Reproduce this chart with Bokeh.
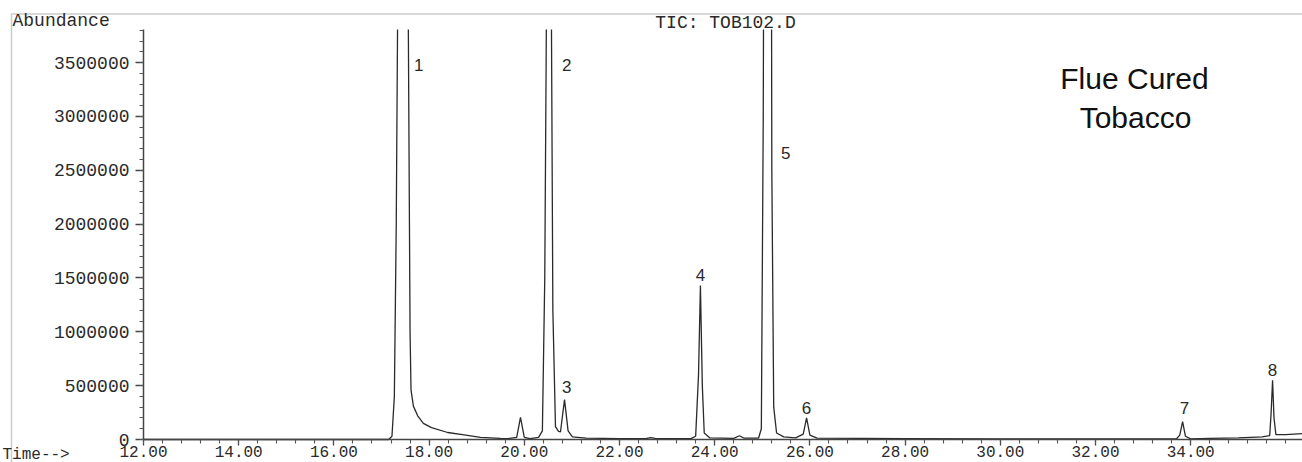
from bokeh.plotting import figure
from bokeh.models import (Range1d, FixedTicker, PrintfTickFormatter, BasicTickFormatter,
                          Label, BoxAnnotation, ColumnDataSource)
from bokeh.embed import file_html
from bokeh.resources import INLINE

NAN = float("nan")   # trace is off scale (above the top of the abundance axis)

# ---- chromatogram trace (retention time in min, abundance) ----
time_min = [12.00, 17.15, 17.22, 17.27, 17.31, 17.337, 17.45, 17.564, 17.60, 17.62,
            17.67, 17.76, 17.88, 18.05, 18.39, 18.70, 19.08, 19.50, 19.65, 19.84,
            19.92, 20.00, 20.12, 20.30, 20.38, 20.43, 20.463, 20.52, 20.571, 20.60,
            20.655, 20.72, 20.76, 20.845, 20.92, 21.01, 21.30, 22.00, 22.55, 22.65,
            22.75, 23.50, 23.60, 23.66, 23.70, 23.74, 23.78, 23.90, 24.40, 24.52,
            24.62, 24.92, 24.98, 25.02, 25.025, 25.11, 25.195, 25.20, 25.24, 25.30,
            25.45, 25.70, 25.86, 25.93, 26.00, 26.15, 28.00, 30.00, 33.70, 33.77,
            33.83, 33.89, 34.00, 34.40, 35.00, 35.50, 35.66, 35.69, 35.72, 35.75,
            35.79, 36.00, 36.35]
abundance = [0, 0, 30000, 400000, 2000000, 3807000, NAN, 3807000, 1000000, 460000,
             310000, 220000, 150000, 110000, 65000, 45000, 20000, 10000, 8000, 20000,
             205000, 20000, 8000, 20000, 80000, 1500000, 3807000, NAN, 3807000, 1200000,
             120000, 75000, 70000, 370000, 80000, 25000, 12000, 8000, 8000, 18000,
             10000, 8000, 30000, 600000, 1430000, 500000, 60000, 15000, 10000, 35000,
             12000, 12000, 100000, 3000000, 3807000, NAN, 3807000, 2500000, 300000, 60000,
             25000, 15000, 50000, 200000, 40000, 12000, 8000, 5000, 5000, 40000,
             165000, 30000, 6000, 10000, 15000, 25000, 35000, 250000, 550000, 200000,
             45000, 45000, 55000]

# ---- peak labels (label centre: time, abundance) ----
peak_ids = ["1", "2", "3", "4", "5", "6", "7", "8"]
label_times = [17.78, 20.89, 20.89, 23.70, 25.49, 25.93, 33.87, 35.72]
label_levels = [3473000, 3473000, 492000, 1532000, 2656000, 288000, 288000, 641000]

# ---- axes ----
x_ticks = [12, 14, 16, 18, 20, 22, 24, 26, 28, 30, 32, 34]
y_ticks = [0, 500000, 1000000, 1500000, 2000000, 2500000, 3000000, 3500000]
x_start = 12.0

W, H = 1302, 462
AX_X, AX_TOP, AX_Y = 143, 29, 439     # y-axis x, axis top, x-axis y (canvas px)
px_per_min = 47.6
px_per_abund = 107.7 / 1e6

x_lo = x_start - AX_X / px_per_min
x_hi = x_start + (W - AX_X) / px_per_min
y_lo = -(H - AX_Y) / px_per_abund
y_hi = AX_Y / px_per_abund
y_top = (AX_Y - AX_TOP) / px_per_abund

p = figure(width=W, height=H, output_backend="svg", toolbar_location=None,
           title=None,
           x_range=Range1d(x_lo, x_hi), y_range=Range1d(y_lo, y_hi),
           min_border_left=0, min_border_right=0, min_border_top=0,
           min_border_bottom=0)
p.background_fill_color = "white"
p.border_fill_color = "white"
p.outline_line_color = None
p.xgrid.visible = False
p.ygrid.visible = False

mono = "Liberation Mono"
ink = "#2a2a2a"
for ax in (p.xaxis[0], p.yaxis[0]):
    ax.axis_line_color = "#444444"
    ax.axis_line_width = 1.5
    ax.major_tick_line_color = "#444444"
    ax.minor_tick_line_color = "#555555"
    ax.major_tick_line_width = 1.3
    ax.minor_tick_line_width = 1.1
    ax.major_tick_in = 0
    ax.minor_tick_in = 0
    ax.major_label_text_font = mono
    ax.major_label_text_color = ink

p.yaxis.fixed_location = x_start
p.yaxis.bounds = (0, y_top)
p.yaxis.ticker = FixedTicker(ticks=y_ticks,
                             minor_ticks=[k * 100000 for k in range(0, 39)])
p.yaxis.formatter = BasicTickFormatter(use_scientific=False)
p.yaxis.major_tick_out = 8
p.yaxis.minor_tick_out = 4
p.yaxis.major_label_standoff = 6
p.yaxis.major_label_text_font_size = "18px"

p.xaxis.fixed_location = 0
p.xaxis.bounds = (x_start, x_hi)
p.xaxis.ticker = FixedTicker(ticks=x_ticks,
                             minor_ticks=[x_start + 0.4 * k for k in range(0, 61)])
p.xaxis.formatter = PrintfTickFormatter(format="%.2f")
p.xaxis.major_tick_out = 6
p.xaxis.minor_tick_out = 4
p.xaxis.major_label_standoff = 0
p.xaxis.major_label_text_font_size = "16px"

src = ColumnDataSource(dict(t=time_min, a=abundance))
p.line("t", "a", source=src, line_color=ink, line_width=1.3)

def sy(y):  # canvas y (from top) -> screen units (from bottom of frame)
    return H - y

# outer frame lines of the printout (top and left)
p.add_layout(BoxAnnotation(left=11, right=W + 50, top=sy(13.5), bottom=-50,
                           left_units="screen", right_units="screen",
                           top_units="screen", bottom_units="screen",
                           fill_alpha=0, line_color="#555555", line_width=1.5))

# peak number labels
for pid, t, lev in zip(peak_ids, label_times, label_levels):
    p.add_layout(Label(x=t, y=lev, text=pid, text_align="center",
                       text_baseline="middle",
                       text_font="Liberation Sans", text_font_size="17px",
                       text_color=ink))

p.add_layout(Label(x=12, y=sy(20), x_units="screen", y_units="screen",
                   text="Abundance", text_font=mono, text_font_size="18px",
                   text_color=ink, text_baseline="middle"))
p.add_layout(Label(x=725, y=sy(22), x_units="screen", y_units="screen",
                   text="TIC: TOB102.D", text_font=mono, text_font_size="18px",
                   text_color=ink, text_baseline="middle", text_align="center"))
p.add_layout(Label(x=2, y=sy(454), x_units="screen", y_units="screen",
                   text="Time-->", text_font=mono, text_font_size="16px",
                   text_color=ink, text_baseline="middle"))

p.add_layout(Label(x=1134, y=sy(78), x_units="screen", y_units="screen",
                   text="Flue Cured", text_font="Liberation Sans", text_font_size="30px",
                   text_color="#111111", text_baseline="middle", text_align="center"))
p.add_layout(Label(x=1135, y=sy(117), x_units="screen", y_units="screen",
                   text="Tobacco", text_font="Liberation Sans", text_font_size="30px",
                   text_color="#111111", text_baseline="middle", text_align="center"))

open("out.html", "w").write(file_html(p, INLINE))
